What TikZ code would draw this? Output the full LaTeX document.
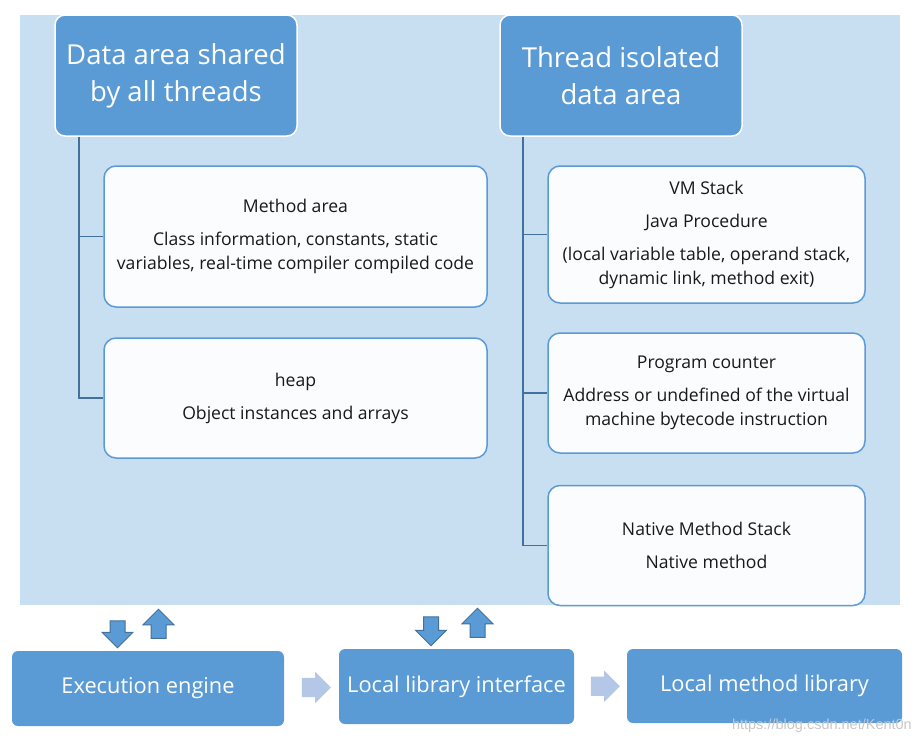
\documentclass[tikz,border=0pt]{standalone}
\usepackage{fontspec}
\setmainfont{Open Sans}
\newfontfamily\wmfont{Liberation Sans}
\usetikzlibrary{shapes.arrows, calc}

\definecolor{bgblue}{RGB}{200,222,241}
\definecolor{midblue}{RGB}{91,155,213}
\definecolor{darkblue}{RGB}{65,113,156}
\definecolor{paleblue}{RGB}{180,199,231}
\definecolor{boxwhite}{RGB}{250,252,254}
\definecolor{txt}{RGB}{25,25,25}

\begin{document}
\begin{tikzpicture}[x=1pt, y=-1pt]

        \tikzstyle{headnode} = [draw=white, line width=1.5pt, fill=midblue, rounded corners=10pt, text=white, align=center, font=\fontsize{27.5}{37}\selectfont, inner sep=0];
        \tikzstyle{areanode} = [draw=midblue, line width=1.5pt, fill=boxwhite, rounded corners=12pt, text=txt, align=center, font=\fontsize{17.6}{24}\selectfont, inner sep=0];
        \tikzstyle{basenode} = [fill=midblue, rounded corners=6pt, text=white, align=center, font=\fontsize{21.8}{24}\selectfont, inner sep=0];
        \tikzstyle{tree} = [draw=darkblue, line width=1.8pt];
        \tikzstyle{bigarrow} = [single arrow, draw=darkblue, line width=1pt, fill=midblue, inner sep=7pt, minimum width=31pt, single arrow head extend=8pt];
        \tikzstyle{flowarrow} = [single arrow, fill=paleblue, inner sep=9.5pt, minimum height=28pt, minimum width=31pt, single arrow head extend=6pt];

        \useasboundingbox (0,0) rectangle (921,742);
        \fill[bgblue] (20,15) rectangle (900,605);

        \node[headnode, minimum width=242pt, minimum height=121pt] (shared) at (176,75.5) {Data area shared\\by all threads};
        \node[headnode, minimum width=242pt, minimum height=121pt] (isolated) at (621,75.5) {Thread isolated\\data area};

        \node[areanode, minimum width=383pt, minimum height=141pt] (method) at (295.5,236.5) {Method area\\[9pt]Class information, constants, static\\variables, real-time compiler compiled code};
        \node[areanode, minimum width=383pt, minimum height=120pt] (heap) at (295.5,398) {heap\\[9pt]Object instances and arrays};

        \node[areanode, minimum width=317pt, minimum height=137pt] (vmstack) at (706.5,234.5) {VM Stack\\[9pt]Java Procedure\\[9pt](local variable table, operand stack,\\dynamic link, method exit)};
        \node[areanode, minimum width=317pt, minimum height=120pt] (counter) at (706.5,393) {Program counter\\[9pt]Address or undefined of the virtual\\machine bytecode instruction};
        \node[areanode, minimum width=317pt, minimum height=120pt] (native) at (706.5,545.5) {Native Method Stack\\[9pt]Native method};

        \draw [tree] ([xshift=25pt]shared.south west) |- (heap.west);
        \draw [tree] ([xshift=25pt]shared.south west) |- (method.west);
        \draw [tree] ([xshift=24pt]isolated.south west) |- (native.west);
        \draw [tree] ([xshift=24pt]isolated.south west) |- (counter.west);
        \draw [tree] ([xshift=24pt]isolated.south west) |- (vmstack.west);

        \node[basenode, minimum width=272pt, minimum height=75pt] (engine) at (148,688.5) {Execution engine};
        \node[basenode, minimum width=235pt, minimum height=75pt] (iface) at (456.5,686.5) {Local library interface};
        \node[basenode, minimum width=275pt, minimum height=74pt] (library) at (764.5,686) {Local method library};

        \node[bigarrow, minimum height=27pt, shape border rotate=270] (down1) at (117.5,630.5) {};
        \node[bigarrow, minimum height=29pt, shape border rotate=90] (up1) at (158.5,627.5) {};
        \node[bigarrow, minimum height=29pt, shape border rotate=270] (down2) at (431,627.5) {};
        \node[bigarrow, minimum height=29pt, shape border rotate=90] (up2) at (477.5,626.5) {};

        \node[flowarrow] (flow1) at ($(engine.east)!0.5!(iface.west)$) {};
        \node[flowarrow] (flow2) at ($(iface.east)!0.5!(library.west)$) {};

        \node[text=white!78!black, font=\wmfont\fontsize{14.5}{16}\selectfont, anchor=base east, inner sep=0] (mark) at (912,729) {https://blog.csdn.net/Kent0n};

\end{tikzpicture}
\end{document}
